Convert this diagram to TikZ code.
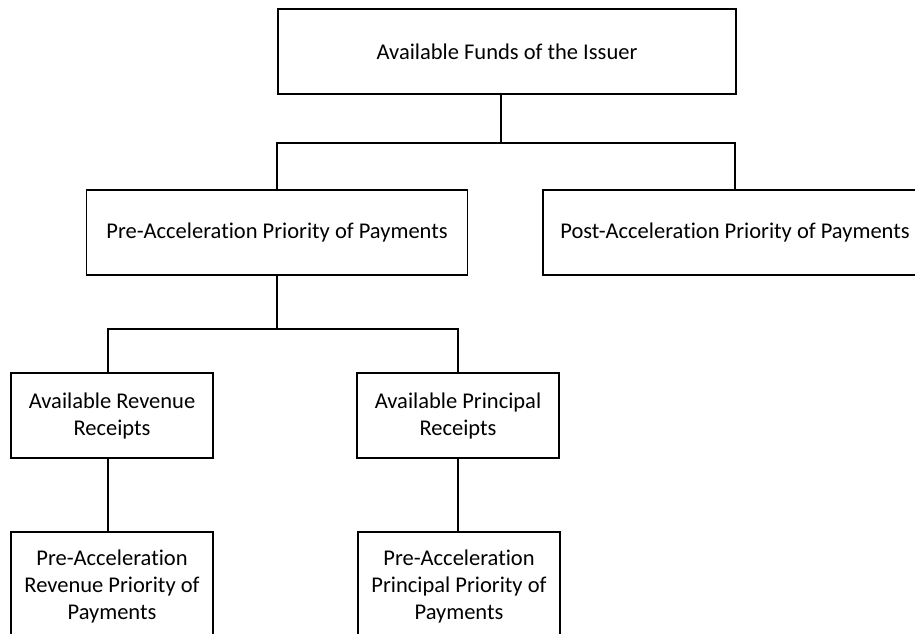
\documentclass[tikz,border=0pt]{standalone}
\usepackage{fontspec}
\setmainfont{Carlito}[Ligatures=NoCommon]
\begin{document}
\begin{tikzpicture}[x=1pt,y=-1pt,
  box/.style={draw,line width=1.2pt,rectangle,inner sep=0pt,align=center,
    font=\fontsize{22.5}{27}\selectfont},
  conn/.style={line width=1.2pt}]
\useasboundingbox (0,0) rectangle (915,634);
\clip (0,0) rectangle (915,634);
\node[box, minimum width=458pt, minimum height=85pt] (b1) at (507,51.5) {Available Funds of the Issuer};
\node[box, minimum width=381pt, minimum height=85pt] (b2) at (277,232.5) {Pre-Acceleration Priority of Payments};
\node[box, minimum width=384pt, minimum height=85pt] (b3) at (735,232.5) {Post-Acceleration Priority of Payments};
\node[box, minimum width=202pt, minimum height=85pt] (b4) at (112,415.5) {Available Revenue\\Receipts};
\node[box, minimum width=202pt, minimum height=85pt] (b5) at (458,415.5) {Available Principal\\Receipts};
\node[box, minimum width=202pt, minimum height=108pt] (b6) at (112,586) {Pre-Acceleration\\Revenue Priority of\\Payments};
\node[box, minimum width=202pt, minimum height=108pt] (b7) at (459,586) {Pre-Acceleration\\Principal Priority of\\Payments};
\coordinate (j1) at (501,143);
\coordinate (j2) at (277,329);
\draw[conn] (j1 |- b1.south) -- (j1);
\draw[conn] (b2.north) |- (j1) -| (b3.north);
\draw[conn] (b2.south) -- (j2);
\draw[conn] ([xshift=-4pt]b4.north) |- (j2) -| (b5.north);
\draw[conn] ([xshift=-4pt]b4.south) -- ([xshift=-4pt]b6.north);
\draw[conn] (b5.south) -- ([xshift=-1pt]b7.north);
\end{tikzpicture}
\end{document}
